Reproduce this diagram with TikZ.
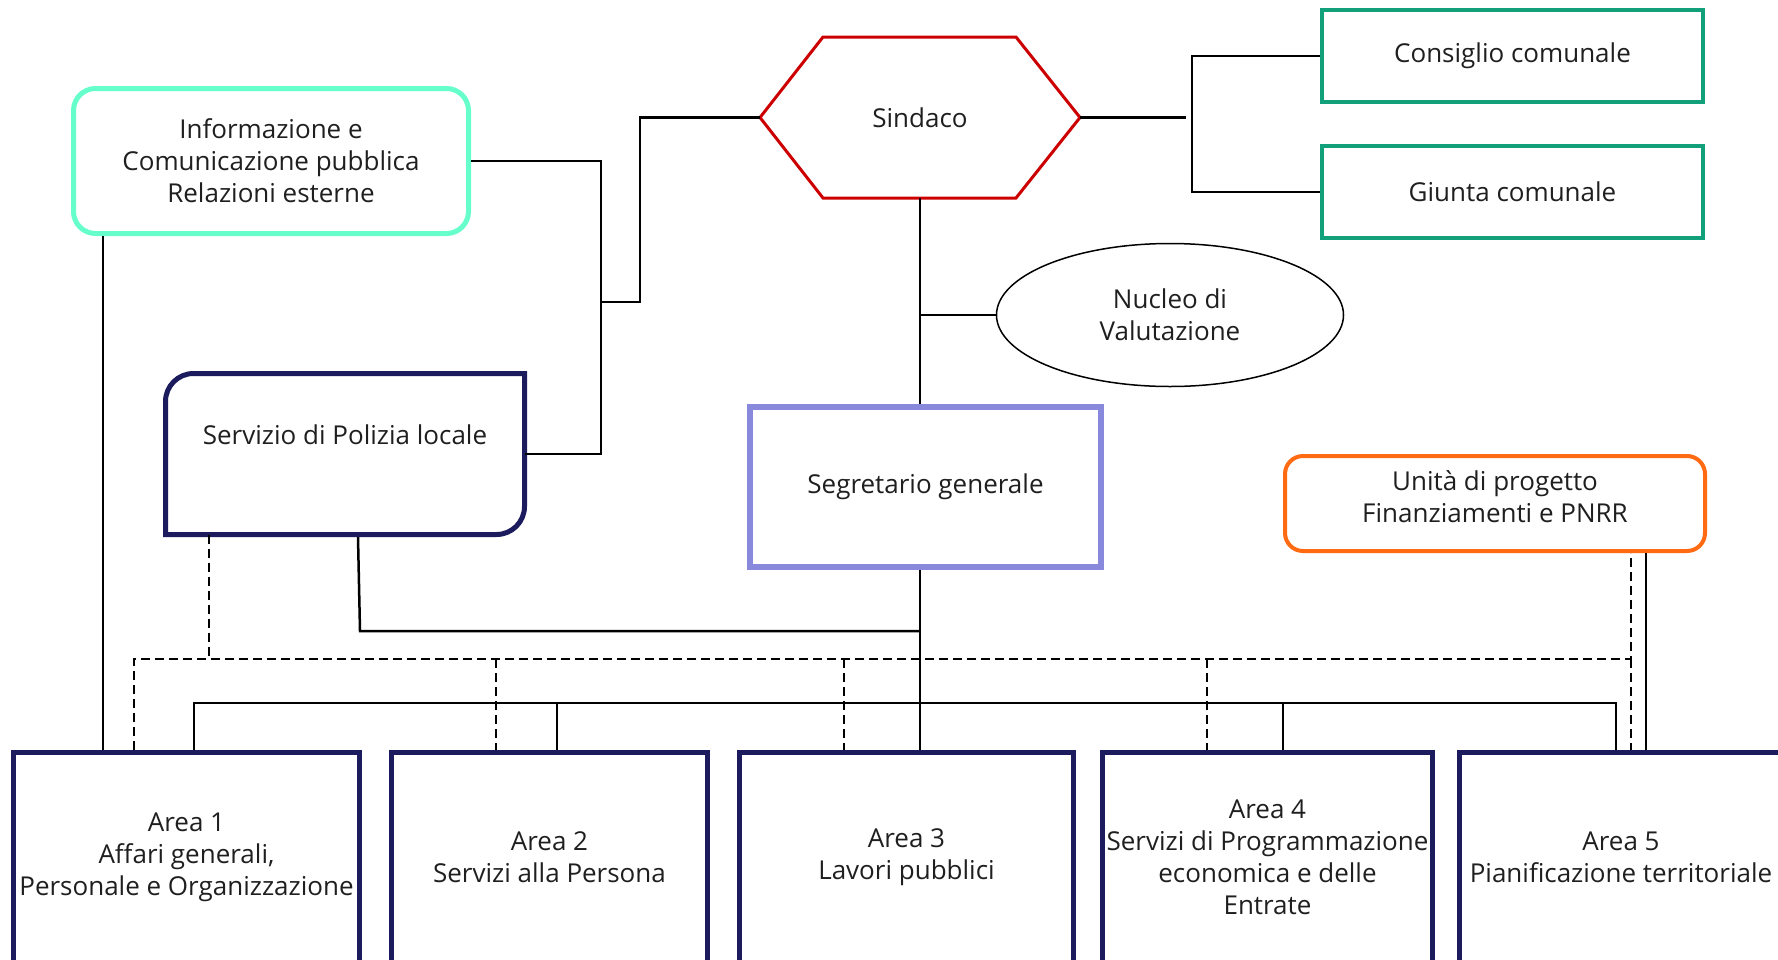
\documentclass[tikz,border=0pt]{standalone}
\usepackage{fontspec}
\setmainfont{Open Sans}
\usetikzlibrary{shapes.geometric,calc}
\definecolor{mintc}{HTML}{66FFCC}
\definecolor{redc}{HTML}{CC0000}
\definecolor{greenc}{HTML}{11A07A}
\definecolor{peric}{HTML}{8888DD}
\definecolor{navyc}{HTML}{1B1B5E}
\definecolor{orangec}{HTML}{FF6A13}
\definecolor{textc}{HTML}{1F1F1F}
\begin{document}
\begin{tikzpicture}[x=1pt,y=1pt,
  txt/.style={font=\fontsize{26}{32}\selectfont, text=textc, align=center, inner sep=0pt},
  conn/.style={line width=2.5pt, black},
  dconn/.style={line width=2pt, black, dash pattern=on 9pt off 5pt},
  ghost/.style={txt, draw=none, outer sep=0pt, minimum width=#1},
  areabox/.style={txt, draw=navyc, line width=5pt, minimum width=#1, minimum height=210pt},
  greenbox/.style={txt, draw=greenc, line width=4pt, minimum width=381pt, minimum height=92pt}
]
\useasboundingbox (0,0) rectangle (1778,-959);
\clip (0,0) rectangle (1778,-959);

% nodes
\node[txt, draw=mintc, line width=5pt, rounded corners=22pt, minimum width=395pt, minimum height=145pt] (info) at (271,-161) {Informazione e\\Comunicazione pubblica\\Relazioni esterne};
\node[ghost=320pt, minimum height=161pt] (sind) at (920,-117.5) {Sindaco};
\draw[redc, line width=3pt] (sind.west) -- ([xshift=63pt]sind.north west) -- ([xshift=-64pt]sind.north east) -- (sind.east) -- ([xshift=-64pt]sind.south east) -- ([xshift=63pt]sind.south west) -- cycle;
\node[greenbox] (cons) at (1512.5,-56) {Consiglio comunale};
\node[greenbox] (giunta) at (1512.5,-192) {Giunta comunale};
\node[txt, draw=black, line width=1.5pt, ellipse, minimum width=347pt, minimum height=143pt] (nucleo) at (1170,-315) {Nucleo di\\Valutazione};
\node[txt, draw=peric, line width=6pt, minimum width=351pt, minimum height=160pt] (segr) at (925.5,-487) {Segretario generale};
\node[ghost=359pt, minimum height=161pt] (pol) at (345,-454) {};
\draw[navyc, line width=5pt] ([yshift=-28pt]pol.north west) arc[start angle=180,end angle=90,radius=28pt] -- (pol.north east) -- ([yshift=28pt]pol.south east) arc[start angle=0,end angle=-90,radius=28pt] -- (pol.south west) -- cycle;
\node[txt] (poltext) at (345,-435) {Servizio di Polizia locale};
\node[txt, draw=orangec, line width=4pt, rounded corners=18pt, minimum width=420pt, minimum height=95pt, text depth=13pt] (unit) at (1495,-503.5) {Unità di progetto\\Finanziamenti e PNRR};

\node[areabox=346pt] (area1) at (186.5,-857.5) {Area 1\\Affari generali,\\Personale e Organizzazione};
\node[areabox=316pt] (area2) at (549.5,-857.5) {Area 2\\Servizi alla Persona};
\node[areabox=334pt] (area3) at (906.5,-857.5) {Area 3\\Lavori pubblici};
\node[areabox=330pt] (area4) at (1267.5,-857.5) {Area 4\\Servizi di Programmazione\\economica e delle\\Entrate};
\node[areabox=323pt] (area5) at (1621,-857.5) {Area 5\\Pianificazione territoriale};

% connectors top
\coordinate (j1) at (601,-302);
\coordinate (j2) at (640,-302);
\draw[conn] (info.east) -| (j1) |- (pol.east);
\draw[conn] (j1) -- (j2) |- (sind.west);
\coordinate (s1) at (1186,-117.5);
\draw[conn] (sind.east) -- (s1);
\coordinate (b1) at (1192,-120);
\draw[conn] (cons.west) -| (b1) |- (giunta.west);
\draw[conn] (sind.south) -- (sind.south |- segr.north);
\draw[conn] (sind.south |- nucleo.west) -- (nucleo.west);
\draw[conn] (sind.south |- segr.south) -- (sind.south |- area3.north);

% polizia to main line
\coordinate (p1) at (358,-537);
\coordinate (p2) at (360,-631);
\draw[conn] (p1) -- (p2) -- (p2 -| sind.south);

% info to area 1
\coordinate (i1) at (103,-236);
\draw[conn] (i1) -- (i1 |- area1.north);

% distribution line
\coordinate (d1) at (194,-703);
\coordinate (d2) at (1616,-703);
\coordinate (d3) at (557,-703);
\coordinate (d4) at (1283,-703);
\draw[conn, line width=2pt] (d1 |- area1.north) -- (d1) -- (d2) -- (d2 |- area5.north);
\draw[conn, line width=2pt] (d3) -- (d3 |- area2.north);
\draw[conn, line width=2pt] (d4) -- (d4 |- area4.north);

% unit to area 5
\coordinate (u1) at (1646,-553);
\draw[conn, line width=2pt] (u1) -- (u1 |- area5.north);

% dashed
\coordinate (e0) at (134,-659);
\coordinate (e1) at (209,-659);
\coordinate (e2) at (496,-659);
\coordinate (e3) at (844,-659);
\coordinate (e4) at (1207,-659);
\coordinate (e5) at (1631,-659);
\draw[dconn] (e0 |- area1.north) -- (e0) -- (e5) -- (e5 |- unit.south);
\draw[dconn] (e5) -- (e5 |- area5.north);
\draw[dconn] (e1 |- pol.south) -- (e1);
\draw[dconn] (e2) -- (e2 |- area2.north);
\draw[dconn] (e3) -- (e3 |- area3.north);
\draw[dconn] (e4) -- (e4 |- area4.north);
\end{tikzpicture}
\end{document}
